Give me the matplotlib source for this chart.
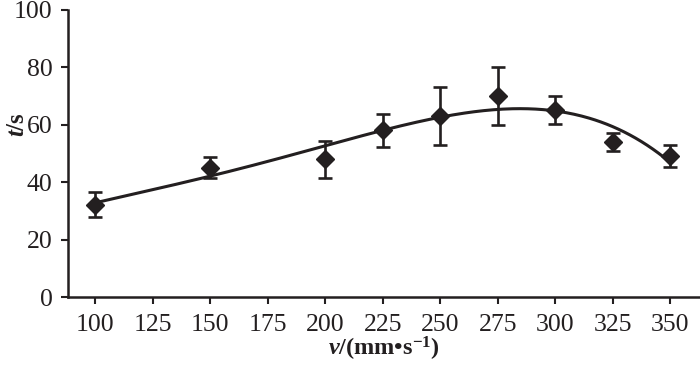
import numpy as np
import matplotlib
matplotlib.use('Agg')
import matplotlib.pyplot as plt

plt.rcParams['font.family'] = ['Liberation Serif', 'DejaVu Serif']
plt.rcParams['mathtext.fontset'] = 'custom'
plt.rcParams['mathtext.rm'] = 'Liberation Serif:bold'
plt.rcParams['mathtext.it'] = 'Liberation Serif:bold:italic'
plt.rcParams['mathtext.bf'] = 'Liberation Serif:bold'

# 速度与时间数据
speed = [100, 150, 200, 225, 250, 275, 300, 325, 350]
time_mean = [32.2, 45.1, 48.0, 58.1, 63.0, 70.0, 65.1, 54.1, 49.2]
time_err = [4.3, 3.6, 6.5, 5.7, 10.0, 10.0, 5.0, 3.2, 3.9]
fit_degree = 4  # 多项式趋势线

ink = '#231f20'

fig = plt.figure(figsize=(7, 3.65), dpi=100)
ax = fig.add_axes([0.097, 0.186, 0.903, 0.787])

xs = np.linspace(min(speed), max(speed), 300)
coef = np.polyfit(speed, time_mean, fit_degree)
ax.plot(xs, np.polyval(coef, xs), color=ink, linewidth=2.2, zorder=3)

ax.errorbar(speed, time_mean, yerr=time_err, fmt='D', color=ink,
            markersize=9, elinewidth=1.9, capsize=5, capthick=1.9, zorder=4)

ax.set_xlim(88, 363)
ax.set_ylim(0, 100)
ax.set_xticks(range(100, 351, 25))
ax.set_yticks(range(0, 101, 20))
for s in ['top', 'right']:
    ax.spines[s].set_visible(False)
for s in ['left', 'bottom']:
    ax.spines[s].set_linewidth(1.8)
    ax.spines[s].set_color(ink)
ax.tick_params(direction='out', length=5, width=1.5, color=ink,
               labelsize=18.5, labelcolor=ink)
ax.tick_params(axis='x', pad=7)
ax.tick_params(axis='y', pad=6)

ax.set_xlabel(r'$v$/(mm•s$^{-1}$)', fontsize=17.5, fontweight='bold', color=ink)
ax.set_ylabel(r'$t$/s', fontsize=18, fontweight='bold', color=ink)
ax.xaxis.set_label_coords(0.5, -0.18)
ax.xaxis.label.set_va('center')
ax.yaxis.set_label_coords(-0.079, 0.60)
ax.yaxis.label.set_va('center')

fig.savefig('out.png', dpi=100)
